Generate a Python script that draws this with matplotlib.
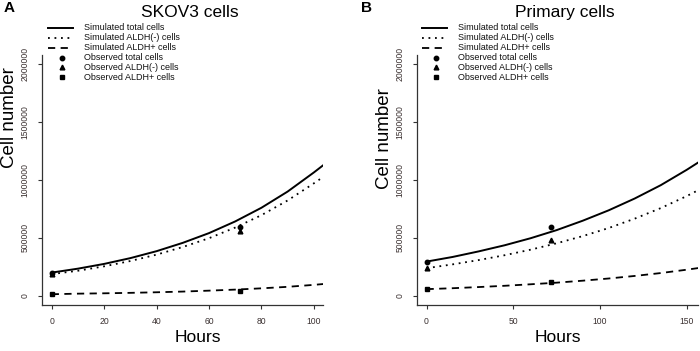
import numpy as np
import matplotlib
matplotlib.use('Agg')
import matplotlib.pyplot as plt
from matplotlib.lines import Line2D

plt.rcParams['font.family'] = ['Liberation Sans', 'DejaVu Sans']

# simulated curves
hours_a = [0, 10, 20, 30, 40, 50, 60, 70, 80, 90, 100, 104]
total_a = [200000, 234000, 275000, 325000, 385000, 457000, 541000, 642000, 760000, 900000, 1065000, 1135000]
neg_a = [187000, 216000, 254000, 300000, 355000, 421000, 497000, 589000, 696000, 823000, 971000, 1033000]
pos_a = [13000, 18000, 21000, 25000, 30000, 36000, 44000, 53000, 64000, 77000, 94000, 102000]

hours_b = [0, 15, 30, 45, 60, 75, 90, 105, 120, 135, 150, 157]
total_b = [295000, 335000, 383000, 436000, 497000, 567000, 648000, 738000, 840000, 955000, 1088000, 1155000]
neg_b = [238000, 271000, 308000, 350000, 398000, 453000, 515000, 585000, 666000, 757000, 861000, 915000]
pos_b = [57000, 65000, 75000, 86000, 99000, 113000, 130000, 149000, 171000, 196000, 225000, 240000]

# observed points
obs_hours_a = [0, 72]
obs_total_a = [200000, 595000]
obs_neg_a = [190000, 560000]
obs_pos_a = [15000, 37000]

obs_hours_b = [0, 72]
obs_total_b = [295000, 592000]
obs_neg_b = [240000, 481000]
obs_pos_b = [57000, 118000]

yticks = [0, 500000, 1000000, 1500000, 2000000]
xticks_a = [0, 20, 40, 60, 80, 100]
xticks_b = [0, 50, 100, 150]

labels = ['Simulated total cells', 'Simulated ALDH(-) cells', 'Simulated ALDH+ cells',
          'Observed total cells', 'Observed ALDH(-) cells', 'Observed ALDH+ cells']

fig = plt.figure(figsize=(7, 3.51), dpi=100)
W, H = 700, 351

dot = (0, (1, 2.6))
dash = (0, (4, 3))

# legend rows (pixels from top)
leg_rows = [28.0, 38.0, 47.8, 57.5, 67.2, 77.0]
leg_styles = [dict(ls='-', lw=1.4), dict(ls=dot, lw=1.3), dict(ls=dash, lw=1.3),
              dict(ls='', marker='o', ms=3.2), dict(ls='', marker='^', ms=3.4),
              dict(ls='', marker='s', ms=3.0)]


def panel(left_px, hours, tot, neg, pos, oh, ot, on, op, xticks, xlim, title, tx, letter, lx, ylab_y, xlab_x, leg_x):
    ax = fig.add_axes([left_px / W, (H - 305) / H, 281 / W, 250 / H])
    ax.plot(hours, tot, color='black', lw=1.4, ls='-')
    ax.plot(hours, neg, color='black', lw=1.3, ls=dot)
    ax.plot(hours, pos, color='black', lw=1.3, ls=dash)
    ax.plot(oh, ot, 'o', color='black', ms=3.2)
    ax.plot(oh, on, '^', color='black', ms=3.4)
    ax.plot(oh, op, 's', color='black', ms=3.0)
    ax.set_xlim(*xlim)
    ax.set_ylim(-80000, 2080000)
    for s in ['top', 'right']:
        ax.spines[s].set_visible(False)
    for s in ['left', 'bottom']:
        ax.spines[s].set_color('#333333')
        ax.spines[s].set_linewidth(0.9)
    ax.set_yticks(yticks)
    ax.set_yticklabels([str(v) for v in yticks], rotation=90, va='center')
    ax.set_xticks(xticks)
    ax.tick_params(length=3, width=0.8, color='#333333', labelsize=6.2, labelcolor='#3a3030', pad=6)
    ax.set_ylabel('Cell number', fontsize=13.5)
    ax.yaxis.set_label_coords(-0.085, ylab_y)
    ax.set_xlabel('Hours', fontsize=12.5)
    ax.xaxis.set_label_coords(xlab_x, -0.1)
    fig.text(tx / W, 1 - 12.5 / H, title, fontsize=12.5, ha='center', va='center')
    fig.text(lx / W, 1 - 7.5 / H, letter, fontsize=11, fontweight='bold', ha='center', va='center')
    # hand-placed legend, R style
    for y, st, lab in zip(leg_rows, leg_styles, labels):
        yf = 1 - y / H
        if st['ls'] == '':
            fig.add_artist(Line2D([(leg_x + 14) / W], [yf], color='black', transform=fig.transFigure, **st))
        else:
            fig.add_artist(Line2D([leg_x / W, (leg_x + 25) / W], [yf, yf], color='black',
                                  transform=fig.transFigure, **st))
        fig.text((leg_x + 36) / W, yf, lab, fontsize=6.5, ha='left', va='center', color='#111111')
    return ax


panel(42, hours_a, total_a, neg_a, pos_a, obs_hours_a, obs_total_a, obs_neg_a, obs_pos_a,
      xticks_a, (-3.7, 103.5), 'SKOV3 cells', 190, 'A', 9, 0.75, 0.555, 48)
panel(417, hours_b, total_b, neg_b, pos_b, obs_hours_b, obs_total_b, obs_neg_b, obs_pos_b,
      xticks_b, (-5.5, 156.5), 'Primary cells', 565, 'B', 367, 0.665, 0.5, 422)

fig.savefig('out.png', dpi=100)
